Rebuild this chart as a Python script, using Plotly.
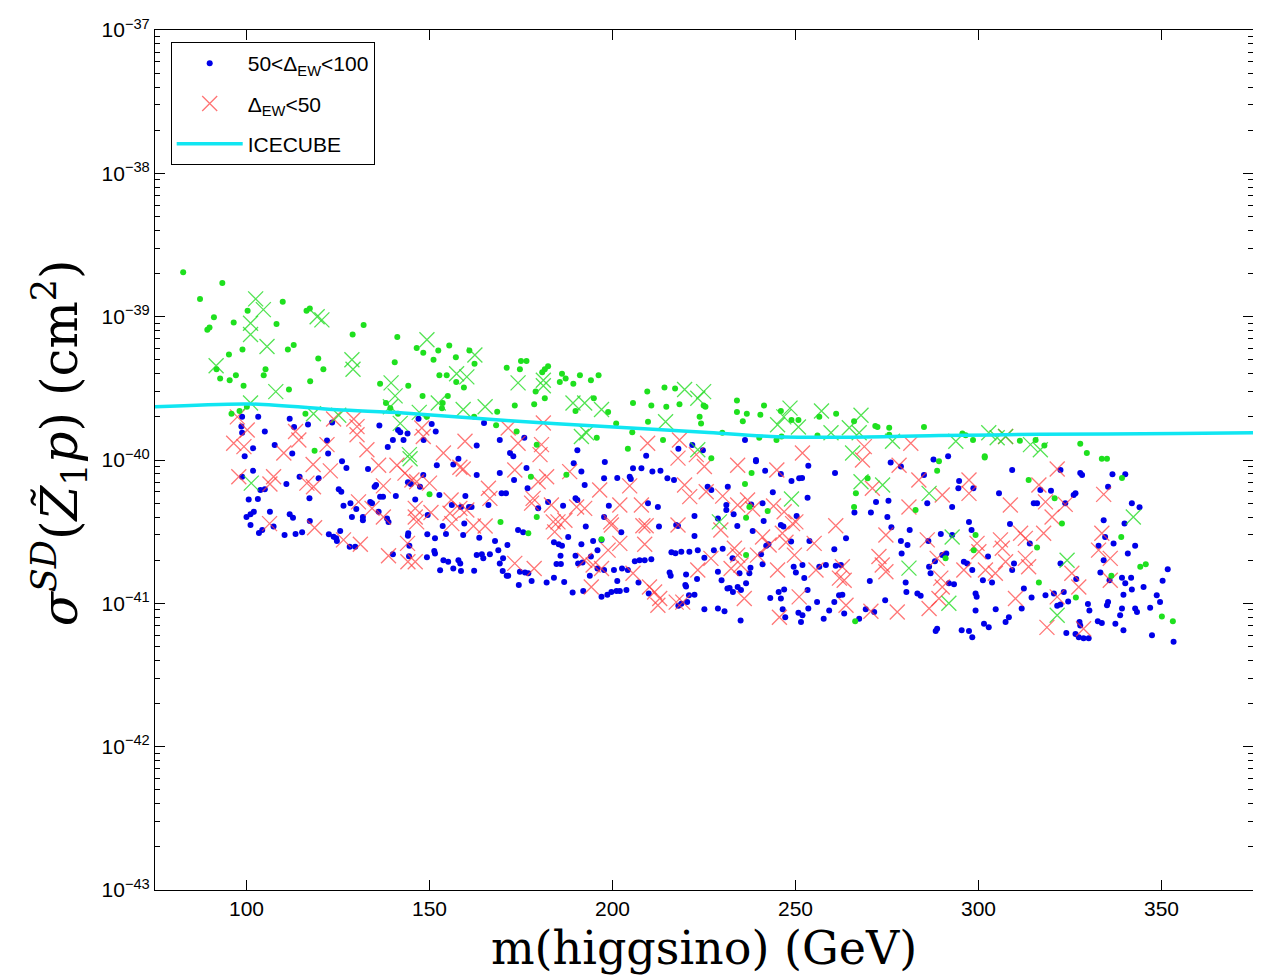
import plotly.graph_objects as go

# ---------------- data (mass in GeV, sigma in cm^2) ----------------
blue_pts = [
 (98.8,2.0e-40),(103.2,2.0e-40),(111.8,1.94e-40),(113.0,1.70e-40),(116.8,1.77e-40),(123.4,1.83e-40),(136.3,1.74e-40),
 (147.0,1.94e-40),(150.6,1.78e-40),(151.7,1.58e-40),(141.4,1.62e-40),(142.0,1.56e-40),(140.0,1.38e-40),(142.9,1.38e-40),
 (144.0,1.53e-40),(164.9,1.81e-40),(169.2,1.38e-40),(162.9,1.26e-40),(98.6,1.71e-40),(98.8,1.55e-40),(105.0,1.58e-40),
 (101.8,1.21e-40),(99.5,1.06e-40),(107.7,1.27e-40),(112.5,1.11e-40),(122.0,1.37e-40),(122.3,1.11e-40),(138.6,1.23e-40),
 (148.4,1.38e-40),(175.9,1.43e-40),(190.4,1.17e-40),(172.0,1.12e-40),(172.9,1.06e-40),(209.2,1.07e-40),(218.0,1.20e-40),
 (221.8,1.27e-40),(224.7,1.17e-40),(236.2,1.38e-40),(239.2,1.0e-40),(287.7,1.01e-40),(291.7,1.06e-40),
 (101.8,.84e-40),(98.8,.765e-40),(110.9,.68e-40),(103.8,.618e-40),(105.0,.625e-40),(100.6,.53e-40),(103.1,.535e-40),
 (114.5,.765e-40),(119.7,.745e-40),(117.2,.54e-40),(126.1,.98e-40),(127.3,.88e-40),(133.2,.865e-40),(125.2,.625e-40),
 (125.9,.60e-40),(126.5,.48e-40),(128.4,.50e-40),(135.0,.65e-40),(135.4,.67e-40),(136.5,.555e-40),(137.3,.555e-40),
 (133.8,.51e-40),(134.3,.50e-40),(130.0,.455e-40),(128.8,.40e-40),(131.8,.40e-40),(131.8,.38e-40),(136.1,.435e-40),
 (138.4,.39e-40),(138.8,.37e-40),(140.8,.56e-40),(146.1,.53e-40),(144.1,.70e-40),(144.9,.68e-40),(147.4,.65e-40),
 (148.3,.786e-40),(152.0,.92e-40),(156.5,.93e-40),(157.9,1.02e-40),(162.9,.786e-40),(169.2,.81e-40),(152.7,.57e-40),
 (159.8,.56e-40),(156.1,.485e-40),(158.6,.47e-40),(160.8,.47e-40),(161.5,.47e-40),(166.1,.485e-40),(169.7,.585e-40),
 (170.9,.585e-40),(100.0,.40e-40),(101.1,.418e-40),(102.0,.435e-40),(101.1,.352e-40),(106.4,.435e-40),(111.8,.418e-40),
 (112.7,.396e-40),(107.4,.343e-40),(103.4,.31e-40),(104.3,.325e-40),(110.4,.30e-40),(113.4,.305e-40),(115.2,.313e-40),
 (117.3,.375e-40),(122.5,.303e-40),(123.8,.292e-40),(124.5,.284e-40),(124.7,.272e-40),(125.6,.32e-40),(128.2,.248e-40),
 (129.7,.248e-40),(140.0,.22e-40),(144.2,.308e-40),(144.1,.296e-40),(144.5,.252e-40),(144.4,.213e-40),(149.4,.303e-40),
 (151.5,.284e-40),(149.3,.21e-40),(151.3,.232e-40),(151.5,.223e-40),(153.6,.346e-40),(154.5,.305e-40),(153.8,.2e-40),
 (155.1,.195e-40),(156.5,.175e-40),(157.9,.20e-40),(158.4,.19e-40),(158.6,.168e-40),(152.9,.17e-40),(162.2,.169e-40),
 (159.2,.30e-40),(159.5,.36e-40),(163.6,.287e-40),(162.9,.217e-40),(164.3,.22e-40),(164.7,.206e-40),(166.5,.22e-40),
 (167.9,.272e-40),(168.8,.235e-40),(169.2,.19e-40),(170.0,.168e-40),(171.1,.156e-40),(170.1,.206e-40),(149.5,.413e-40),
 (176.5,.88e-40),(173.1,.725e-40),(176.8,.635e-40),(179.7,.46e-40),(182.4,.51e-40),(186.5,.48e-40),(189.4,.95e-40),
 (191.5,.83e-40),(192.4,.67e-40),(189.9,.54e-40),(190.4,.526e-40),(197.7,.745e-40),(201.3,.75e-40),(204.7,.765e-40),
 (205.0,.737e-40),(205.6,.875e-40),(207.9,.875e-40),(210.9,.83e-40),(213.1,.84e-40),(215.0,.745e-40),(216.8,.725e-40),
 (197.9,.97e-40),(199.0,.48e-40),(197.7,.40e-40),(209.7,.50e-40),(212.4,.47e-40),(171.3,.255e-40),(174.2,.325e-40),
 (175.6,.313e-40),(187.9,.29e-40),(192.7,.343e-40),(202.4,.313e-40),(191.5,.258e-40),(194.7,.272e-40),(197.0,.277e-40),
 (184.0,.267e-40),(185.3,.258e-40),(186.2,.252e-40),(185.8,.215e-40),(189.9,.215e-40),(195.9,.235e-40),(194.1,.212e-40),
 (184.7,.188e-40),(185.9,.188e-40),(190.6,.19e-40),(191.8,.193e-40),(171.5,.156e-40),(174.7,.166e-40),(176.1,.164e-40),
 (177.0,.162e-40),(174.4,.134e-40),(177.9,.143e-40),(182.0,.14e-40),(184.0,.151e-40),(186.8,.141e-40),(193.8,.156e-40),
 (195.9,.175e-40),(189.1,.119e-40),(192.0,.122e-40),(197.7,.171e-40),(200.4,.171e-40),(202.6,.175e-40),(204.2,.171e-40),
 (206.1,.197e-40),(207.4,.20e-40),(208.8,.20e-40),(210.6,.203e-40),(207.1,.14e-40),(201.3,.143e-40),(197.0,.111e-40),
 (198.6,.115e-40),(199.7,.12e-40),(201.1,.122e-40),(202.0,.122e-40),(203.8,.124e-40),(209.9,.117e-40),(212.7,.343e-40),
 (216.1,.227e-40),(217.2,.224e-40),(218.8,.229e-40),(221.0,.229e-40),(223.3,.235e-40),(217.4,.352e-40),(222.4,.407e-40),
 (222.4,.295e-40),(227.7,.235e-40),(225.1,.208e-40),(215.6,.164e-40),(215.9,.156e-40),(220.1,.159e-40),(223.1,.148e-40),
 (219.9,.134e-40),(220.1,.131e-40),(220.9,.114e-40),(222.4,.115e-40),(220.4,.102e-40),(218.8,.995e-41),(218.0,.96e-41),
 (225.1,.91e-41),(228.8,.92e-41),(230.6,.88e-41),(235.0,.76e-41),(230.1,.24e-40),(232.8,.206e-40),(228.8,.166e-40),
 (229.8,.145e-40),(231.4,.127e-40),(232.0,.128e-40),(232.9,.12e-40),(234.2,.13e-40),(235.1,.124e-40),(234.7,.162e-40),
 (237.4,.162e-40),(236.5,.138e-40),(237.7,.177e-40),(240.6,.22e-40),(242.0,.252e-40),(242.6,.258e-40),(241.0,.187e-40),
 (243.1,.109e-40),(245.4,.12e-40),(246.9,.125e-40),(246.0,.108e-40),(246.5,.91e-41),(247.2,.80e-41),(249.5,.18e-40),
 (251.9,.185e-40),(250.1,.164e-40),(252.4,.15e-40),(250.8,.86e-41),(251.9,.825e-41),(251.5,.74e-41),(253.3,.124e-40),
 (253.5,.92e-41),(255.9,.102e-40),(257.7,.78e-41),(259.2,.89e-41),(260.6,.102e-40),(261.9,.114e-40),(256.5,.18e-40),
 (258.3,.185e-40),(261.0,.183e-40),(262.4,.185e-40),(260.6,.238e-40),(253.8,.272e-40),(248.8,.27e-40),(246.0,.352e-40),
 (246.7,.343e-40),(241.3,.375e-40),(238.3,.32e-40),(234.1,.346e-40),(231.1,.485e-40),(231.1,.448e-40),(233.1,.418e-40),
 (228.8,.39e-40),(241.0,.50e-40),(237.9,.49e-40),(243.8,.595e-40),(250.3,.407e-40),(253.3,.545e-40),(253.5,.91e-40),
 (248.9,.714e-40),(251.0,.745e-40),(251.8,.75e-40),(241.7,.84e-40),(239.2,.98e-40),(246.0,.80e-40),(260.8,.81e-40),
 (231.5,.65e-40),(226.0,.65e-40),(227.0,.618e-40),(217.9,.346e-40),
 (276.0,.96e-40),(278.8,.90e-40),(285.1,.786e-40),(266.1,.43e-40),(270.6,.43e-40),(272.0,.51e-40),(275.4,.52e-40),
 (275.1,.40e-40),(276.2,.34e-40),(263.8,.284e-40),(278.8,.272e-40),(280.6,.255e-40),(281.2,.325e-40),(279.0,.223e-40),
 (286.0,.50e-40),(292.8,.47e-40),(294.7,.714e-40),(294.5,.635e-40),(298.6,.635e-40),(297.4,.37e-40),(298.1,.325e-40),
 (289.7,.305e-40),(292.8,.30e-40),(286.3,.272e-40),(290.1,.217e-40),(291.2,.223e-40),(286.5,.18e-40),(286.9,.162e-40),
 (288.1,.197e-40),(296.0,.195e-40),(296.9,.19e-40),(298.3,.171e-40),(302.6,.212e-40),(301.2,.145e-40),(303.7,.14e-40),
 (293.3,.136e-40),(291.9,.138e-40),(299.2,.117e-40),(299.5,.111e-40),(283.3,.117e-40),(284.2,.113e-40),(280.1,.14e-40),
 (280.3,.12e-40),(270.3,.143e-40),(274.5,.105e-40),(269.2,.91e-41),(271.5,.87e-41),(263.3,.85e-41),(262.8,.115e-40),
 (267.4,.78e-41),(288.7,.665e-41),(288.3,.64e-41),(295.4,.65e-41),(297.4,.64e-41),(298.3,.58e-41),(299.2,.89e-41),
 (304.7,.91e-41),(301.5,.72e-41),(302.8,.68e-41),(307.4,.74e-41),(308.3,.80e-41),(305.6,.585e-40),(308.6,.357e-40),
 (309.2,.852e-40),(309.7,.19e-40),(309.2,.171e-40),(312.4,.127e-40),(311.8,.92e-41),(314.5,.11e-40),(315.1,.50e-40),
 (316.0,.50e-40),(316.9,.618e-40),(319.8,.61e-40),(314.0,.262e-40),(318.3,.114e-40),(320.6,.117e-40),(321.5,.96e-41),
 (322.4,.98e-41),(323.3,.12e-40),(324.5,.103e-40),(324.0,.62e-41),(326.5,.61e-41),(327.4,.58e-41),(328.7,.57e-41),
 (330.1,.57e-41),(327.6,.74e-41),(327.8,.70e-41),(329.9,.99e-41),(330.3,.89e-41),(322.4,.19e-40),(326.7,.148e-40),
 (326.0,.57e-40),(326.5,.585e-40),(327.8,.81e-40),(328.3,.786e-40),(323.7,.50e-40),(322.4,.852e-40),(336.6,.795e-40),
 (340.1,.795e-40),(335.4,.65e-40),(341.9,.50e-40),(344.0,.468e-40),(334.2,.38e-40),(339.9,.36e-40),(332.8,.252e-40),
 (334.6,.29e-40),(336.9,.262e-40),(340.8,.223e-40),(342.8,.252e-40),(334.2,.20e-40),(333.3,.164e-40),(339.2,.151e-40),
 (341.7,.151e-40),(340.1,.138e-40),(335.8,.145e-40),(339.6,.115e-40),(341.9,.125e-40),(335.4,.102e-40),(335.1,.97e-41),
 (332.6,.75e-41),(333.7,.73e-41),(337.4,.72e-41),(338.7,.825e-41),(339.2,.92e-41),(339.6,.65e-41),(342.8,.92e-41),
 (343.3,.87e-41),(346.9,.93e-41),(345.1,.13e-40),(348.7,.114e-40),(349.6,.102e-40),(350.3,.144e-40),(351.7,.173e-40),
 (347.4,.60e-41),(353.3,.54e-41),
]

red_pts = [
 (97.5,2.0e-40),(100.2,1.62e-40),(96.5,1.31e-40),(99.3,1.24e-40),(113.4,1.58e-40),(114.3,1.38e-40),(123.8,1.93e-40),
 (129.3,1.93e-40),(130.2,1.71e-40),(130.2,1.50e-40),(122.0,1.28e-40),(132.9,1.18e-40),(147.9,1.67e-40),(148.3,1.46e-40),
 (159.7,1.35e-40),(153.8,1.12e-40),(110.2,1.12e-40),(171.5,1.67e-40),(174.2,1.31e-40),(180.6,1.28e-40),(180.2,1.09e-40),
 (209.6,1.31e-40),(218.3,1.38e-40),(222.9,1.09e-40),(251.9,1.12e-40),(181.1,1.81e-40),(268.8,1.24e-40),(281.5,1.31e-40),
 (307.4,1.46e-40),
 (97.9,.765e-40),(107.4,.765e-40),(106.4,.68e-40),(118.2,.93e-40),(122.9,.84e-40),(116.5,.69e-40),(118.3,.65e-40),
 (106.3,.36e-40),(118.6,.337e-40),(126.5,.277e-40),(131.1,.258e-40),(130.6,.51e-40),(134.3,.46e-40),(137.4,.40e-40),
 (137.4,.66e-40),(136.1,.92e-40),(141.1,.92e-40),(143.3,.81e-40),(145.2,.725e-40),(146.5,.705e-40),(150.0,.69e-40),
 (146.1,.46e-40),(146.1,.40e-40),(146.5,.37e-40),(150.4,.43e-40),(138.8,.215e-40),(144.1,.195e-40),(146.1,.195e-40),
 (144.0,.262e-40),(155.9,.526e-40),(155.6,.425e-40),(156.1,.36e-40),(158.3,.89e-40),(159.2,.865e-40),(158.3,.46e-40),
 (160.2,.448e-40),(162.0,.346e-40),(165.2,.346e-40),(166.1,.635e-40),(166.5,.54e-40),
 (173.3,.852e-40),(179.7,.705e-40),(182.0,.765e-40),(178.3,.54e-40),(177.9,.50e-40),(183.3,.485e-40),(183.8,.37e-40),
 (185.1,.37e-40),(187.0,.38e-40),(184.2,.315e-40),(188.3,.83e-40),(190.2,.47e-40),(192.4,.46e-40),(196.5,.618e-40),
 (199.5,.37e-40),(199.7,.352e-40),(202.0,.485e-40),(204.7,.66e-40),(207.9,.485e-40),(208.3,.348e-40),(209.2,.348e-40),
 (208.8,.258e-40),(202.0,.262e-40),(198.8,.235e-40),(173.3,.19e-40),(178.6,.175e-40),(192.4,.20e-40),(194.7,.185e-40),
 (197.0,.175e-40),(194.2,.13e-40),(205.6,.162e-40),(210.1,.13e-40),(211.5,.12e-40),(212.9,.108e-40),(212.4,.97e-41),
 (217.4,.102e-40),(219.2,.102e-40),(217.9,.352e-40),(219.7,.67e-40),(221.1,.555e-40),(225.6,.60e-40),(225.1,.90e-40),
 (217.9,1.03e-40),(234.2,.92e-40),(230.1,.56e-40),(234.2,.485e-40),(236.9,.526e-40),(238.3,.455e-40),(244.0,.477e-40),
 (244.9,.852e-40),(229.6,.325e-40),(223.3,.171e-40),(226.9,.206e-40),(233.3,.242e-40),(234.2,.217e-40),(232.4,.175e-40),
 (235.1,.185e-40),(236.0,.108e-40),(241.0,.29e-40),(242.8,.255e-40),(239.6,.217e-40),(245.1,.171e-40),(246.4,.308e-40),
 (247.4,.267e-40),(249.2,.36e-40),(250.1,.37e-40),(246.9,.435e-40),(255.1,.262e-40),(249.7,.217e-40),(255.6,.171e-40),
 (261.0,.348e-40),(262.0,.15e-40),(251.0,.111e-40),(245.6,.80e-41),
 (268.3,1.0e-40),(278.3,.92e-40),(283.7,.725e-40),(271.0,.635e-40),(281.0,.47e-40),(290.1,.57e-40),(297.4,.725e-40),
 (297.4,.585e-40),(308.7,.485e-40),(321.5,.865e-40),(316.5,.67e-40),(318.3,.51e-40),(320.1,.40e-40),(323.7,.49e-40),
 (334.2,.576e-40),(274.7,.30e-40),(286.0,.277e-40),(299.6,.262e-40),(306.0,.277e-40),(306.5,.242e-40),(311.5,.308e-40),
 (312.8,.284e-40),(317.8,.308e-40),(272.8,.212e-40),(273.7,.185e-40),(274.7,.166e-40),(262.8,.18e-40),(263.3,.145e-40),
 (288.7,.206e-40),(289.7,.15e-40),(290.1,.13e-40),(289.2,.108e-40),(286.5,.92e-41),(277.8,.87e-41),(263.8,.97e-41),
 (270.6,.88e-41),(296.0,.171e-40),(300.1,.229e-40),(301.9,.171e-40),(304.6,.162e-40),(307.4,.195e-40),(312.8,.206e-40),
 (313.7,.18e-40),(310.1,.108e-40),(318.7,.68e-41),(328.7,.665e-41),(321.5,.111e-40),(325.5,.162e-40),(327.4,.13e-40),
 (333.7,.308e-40),(332.8,.235e-40),(336.0,.206e-40),(336.0,.145e-40),
]

green_dot_pts = [
 (82.7,2.04e-39),(93.4,1.72e-39),(87.3,1.33e-39),(109.9,1.27e-39),(100.3,1.10e-39),(91.1,.99e-39),(96.5,.91e-39),
 (108.2,.89e-39),(89.3,.81e-39),(89.9,.84e-39),(116.4,1.10e-39),(117.3,1.14e-39),(132.0,.875e-39),(129.0,.75e-39),
 (141.2,.72e-39),(112.9,.635e-39),(111.3,.59e-39),(98.9,.59e-39),(95.2,.545e-39),(119.6,.51e-39),(121.0,.43e-39),
 (105.2,.43e-39),(104.7,.39e-39),(91.8,.43e-39),(92.8,.37e-39),(95.4,.36e-39),(97.1,.39e-39),(99.2,.33e-39),
 (117.4,.355e-39),(111.6,.31e-39),(140.5,.48e-39),(144.2,.33e-39),(136.5,.34e-39),(146.5,.605e-39),(148.3,.56e-39),
 (152.4,.58e-39),(155.4,.63e-39),(151.1,.50e-39),(157.2,.52e-39),(160.9,.58e-39),(162.3,.47e-39),(171.1,.44e-39),
 (152.7,.39e-39),(154.7,.39e-39),(157.3,.35e-39),(159.4,.32e-39),(148.1,.28e-39),(155.0,.28e-39),(153.6,.25e-39),
 (153.4,.23e-39),(138.1,.25e-39),(139.3,.23e-39),(141.4,.21e-39),(149.3,.20e-39),(162.2,.20e-39),(168.5,.217e-39),
 (168.2,.175e-39),(95.9,.21e-39),(98.1,.22e-39),(100.1,.235e-39),(116.1,.21e-39),(118.6,.116e-39),
 (175.0,.49e-39),(176.5,.49e-39),(174.7,.43e-39),(181.5,.43e-39),(182.4,.45e-39),(180.8,.41e-39),(186.2,.40e-39),
 (187.2,.37e-39),(185.6,.35e-39),(189.3,.34e-39),(191.1,.39e-39),(194.1,.36e-39),(196.2,.39e-39),(173.3,.24e-39),
 (178.6,.245e-39),(181.5,.27e-39),(179.0,.30e-39),(194.9,.27e-39),(198.8,.216e-39),(189.9,.22e-39),(201.0,.18e-39),
 (205.6,.25e-39),(209.5,.30e-39),(210.6,.24e-39),(214.2,.32e-39),(214.7,.235e-39),(217.1,.315e-39),(218.3,.245e-39),
 (209.7,.185e-39),(205.4,.156e-39),(223.8,.20e-39),(224.2,.18e-39),(224.9,.24e-39),(225.4,.235e-39),(230.0,.155e-39),
 (234.0,.26e-39),(234.0,.216e-39),(235.6,.186e-39),(236.7,.21e-39),(240.4,.207e-39),(241.4,.24e-39),(240.1,.143e-39),
 (244.8,.138e-39),(246.2,.146e-39),(246.0,.22e-39),(248.9,.19e-39),(250.8,.19e-39),(256.0,.148e-39),(261.1,.21e-39),
 (256.5,.20e-39),(195.7,.143e-39),(204.2,.12e-39),(213.8,.138e-39),(173.8,.158e-39),(179.3,.128e-39),
 (266.0,.186e-39),(271.8,.173e-39),(272.4,.17e-39),(275.6,.168e-39),(275.6,.15e-39),(285.1,.17e-39),(295.6,.153e-39),
 (296.5,.149e-39),(298.5,.138e-39),(311.3,.136e-39),(315.6,.138e-39),(318.0,.126e-39),(327.8,.13e-39),(329.6,.112e-39),
 (333.7,.102e-39),(335.1,.102e-39),(301.7,.106e-39),
 (150.0,.576e-40),(169.4,.37e-40),(177.7,.765e-40),(187.4,.79e-40),(179.3,.40e-40),(177.0,.308e-40),(197.0,.28e-40),
 (238.0,.81e-40),(236.2,.68e-40),(237.4,.47e-40),(236.5,.396e-40),(242.4,.44e-40),(236.5,.217e-40),(227.0,1.03e-40),
 (289.2,.98e-40),(288.7,.84e-40),(301.7,1.04e-40),(269.7,.745e-40),(266.5,.585e-40),(266.0,.47e-40),(282.8,.448e-40),
 (313.7,.725e-40),(320.8,.54e-40),(322.8,.36e-40),(299.2,.30e-40),(298.7,.235e-40),(291.0,.206e-40),(316.0,.245e-40),
 (316.5,.14e-40),(326.6,.11e-40),(336.3,.156e-40),(339.0,.29e-40),(339.2,.75e-40),(344.2,.18e-40),(345.7,.187e-40),
 (350.1,.81e-41),(353.1,.75e-41),(266.3,.75e-41),
]

green_cross_pts = [
 (102.5,1.33e-39),(104.6,1.12e-39),(105.6,.62e-39),(101.1,.75e-39),(101.1,.90e-39),(119.3,1.0e-39),(120.6,.95e-39),
 (91.7,.455e-39),(108.0,.30e-39),(101.1,.25e-39),(128.8,.50e-39),(129.1,.43e-39),(149.3,.69e-39),(162.4,.54e-39),
 (157.4,.40e-39),(160.2,.38e-39),(139.5,.345e-39),(140.6,.28e-39),(139.3,.235e-39),(142.0,.18e-39),(147.2,.215e-39),
 (152.4,.25e-39),(159.2,.225e-39),(165.2,.235e-39),(118.3,.21e-39),(125.2,.205e-39),(144.5,.109e-39),
 (174.2,.345e-39),(181.1,.36e-39),(181.1,.33e-39),(189.2,.25e-39),(192.4,.25e-39),(197.0,.225e-39),(191.5,.146e-39),
 (192.9,.155e-39),(214.5,.185e-39),(219.7,.31e-39),(224.9,.30e-39),(223.3,.27e-39),(245.1,.176e-39),(248.5,.23e-39),
 (250.8,.17e-39),(246.8,.20e-39),(257.1,.22e-39),(259.7,.155e-39),(223.3,.118e-39),
 (267.9,.205e-39),(264.7,.168e-39),(267.4,.155e-39),(276.5,.135e-39),(293.8,.135e-39),(302.8,.155e-39),(305.1,.143e-39),
 (307.4,.146e-39),(314.2,.128e-39),(316.9,.118e-39),(265.6,.112e-39),
 (101.3,.69e-40),(144.7,1.02e-40),(229.2,.37e-40),(248.9,.535e-40),(267.9,.705e-40),(273.8,.67e-40),(286.5,.585e-40),
 (292.8,.29e-40),(281.0,.176e-40),(291.9,.1e-40),(321.5,.825e-41),(324.2,.20e-40),(342.3,.40e-40),
]

ice_mass = [75, 101.1, 124.7, 142.9, 172.0, 197.9, 225.1, 243.3, 263.3, 289.2, 316.5, 354.6, 375]
ice_sigma = [2.35e-40, 2.46e-40, 2.24e-40, 2.13e-40, 1.88e-40, 1.71e-40, 1.56e-40, 1.46e-40,
             1.44e-40, 1.48e-40, 1.51e-40, 1.53e-40, 1.55e-40]

x_ticks = [100, 150, 200, 250, 300, 350]
y_exponents = [-37, -38, -39, -40, -41, -42, -43]

blue_mass = [p[0] for p in blue_pts]; blue_sigma = [p[1] for p in blue_pts]
red_mass = [p[0] for p in red_pts]; red_sigma = [p[1] for p in red_pts]
gdot_mass = [p[0] for p in green_dot_pts]; gdot_sigma = [p[1] for p in green_dot_pts]
gx_mass = [p[0] for p in green_cross_pts]; gx_sigma = [p[1] for p in green_cross_pts]

# ---------------- figure ----------------
fig = go.Figure()
fig.add_trace(go.Scatter(x=blue_mass, y=blue_sigma, mode="markers", legendgroup="a",
                         name="50&lt;Δ<sub>EW</sub>&lt;100",
                         marker=dict(symbol="circle", size=6, color="#0000e8", line=dict(width=0))))
fig.add_trace(go.Scatter(x=red_mass, y=red_sigma, mode="markers", legendgroup="b",
                         name="Δ<sub>EW</sub>&lt;50",
                         marker=dict(symbol="x-thin", size=15,
                                     line=dict(width=1.3, color="rgba(255,60,60,0.7)"))))
fig.add_trace(go.Scatter(x=gdot_mass, y=gdot_sigma, mode="markers", showlegend=False,
                         marker=dict(symbol="circle", size=6, color="#1ee01e", line=dict(width=0))))
fig.add_trace(go.Scatter(x=gx_mass, y=gx_sigma, mode="markers", showlegend=False,
                         marker=dict(symbol="x-thin", size=15,
                                     line=dict(width=1.3, color="rgba(40,220,40,0.8)"))))
fig.add_trace(go.Scatter(x=ice_mass, y=ice_sigma, mode="lines", name="ICECUBE", legendgroup="c",
                         line=dict(color="#10e6f2", width=3.5, shape="spline", smoothing=0.8)))

y_tickvals = [10.0 ** e for e in y_exponents]
y_ticktext = ["10<sup>−%d</sup>" % (-e) for e in y_exponents]
minor_vals = [k * 10.0 ** e for e in range(-43, -37) for k in range(2, 10)]

axis_common = dict(showline=True, linecolor="black", linewidth=1, mirror="allticks",
                   ticks="inside", tickcolor="black", showgrid=False, zeroline=False,
                   automargin=False)

fig.update_xaxes(range=[75, 375], tickmode="array", tickvals=x_ticks, ticklen=10,
                 tickfont=dict(family="Liberation Sans", size=21, color="black"),
                 **axis_common)
fig.update_yaxes(type="log", range=[-43, -37], tickmode="array", tickvals=y_tickvals,
                 ticktext=y_ticktext, ticklen=10,
                 tickfont=dict(family="Liberation Sans", size=21, color="black"),
                 minor=dict(tickmode="array", tickvals=minor_vals, ticks="inside", ticklen=5,
                            tickcolor="black", showgrid=False),
                 **axis_common)

fig.add_annotation(text="m(higgsino) (GeV)", xref="paper", yref="paper",
                   x=0.5, y=-0.068, xanchor="center", yanchor="middle", showarrow=False,
                   font=dict(family="DejaVu Serif", size=46, color="black"))
fig.add_annotation(text="<i>σ</i><sup><i>SD</i></sup>(<i>Z̃</i><sub>1</sub><i>p</i>) (cm<sup>2</sup>)",
                   xref="paper", yref="paper", x=-0.087, y=0.52, textangle=-90,
                   xanchor="center", yanchor="middle", showarrow=False,
                   font=dict(family="DejaVu Serif", size=50, color="black"))

fig.update_layout(
    width=1261, height=980,
    margin=dict(l=147, r=16, t=22, b=98),
    paper_bgcolor="white", plot_bgcolor="white",
    legend=dict(x=0.0143, y=0.986, xanchor="left", yanchor="top",
                bgcolor="white", bordercolor="black", borderwidth=1,
                font=dict(family="Liberation Sans", size=21, color="black"),
                itemwidth=66, tracegroupgap=10),
)

fig.write_html("out.html")
